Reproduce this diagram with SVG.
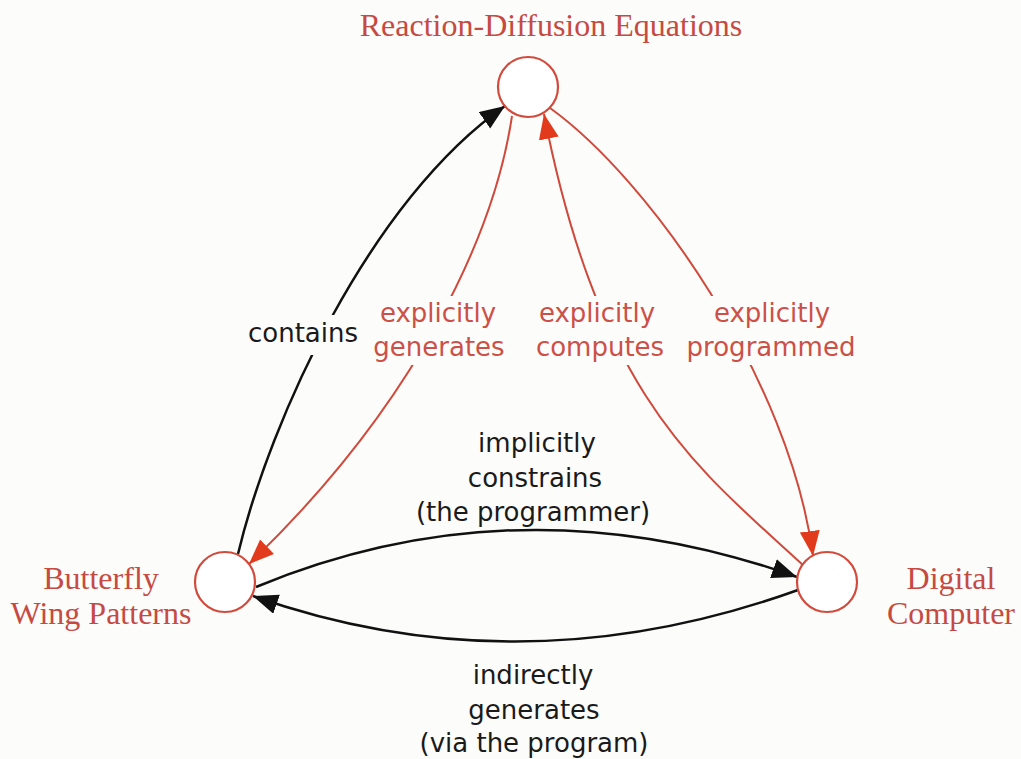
<svg xmlns="http://www.w3.org/2000/svg" width="1021" height="759" viewBox="0 0 1021 759">
  <defs>
    <style>
      .bg { fill: #fcfcfa; }
      .node { fill: #ffffff; stroke: #d24a3c; stroke-width: 2.2; }
      .node-label { font-family: "Liberation Serif", "Times New Roman", serif; font-size: 32px; fill: #c64a42; text-anchor: middle; }
      .edge { fill: none; stroke-width: 2.5; }
      .edge-black { stroke: #111111; }
      .edge-red { stroke: #cf4a3c; stroke-width: 2; }
      .edge-label { font-family: "DejaVu Sans", "Noto Sans", sans-serif; font-size: 26px; text-anchor: middle; }
      .lbl-black { fill: #1a1a1a; }
      .lbl-red { fill: #cc5048; }
    </style>
    <marker id="arrow-black" markerUnits="userSpaceOnUse" markerWidth="28" markerHeight="22" refX="25" refY="10" orient="auto">
      <path d="M0,0 L25,10 L0,20 Z" fill="#111111"/>
    </marker>
    <marker id="arrow-red" markerUnits="userSpaceOnUse" markerWidth="28" markerHeight="22" refX="25" refY="10" orient="auto">
      <path d="M0,0 L25,10 L0,20 Z" fill="#e23a1c"/>
    </marker>
  </defs>

  <rect class="bg" x="0" y="0" width="1021" height="759"/>

  <!-- connectors -->
  <g id="connectors">
    <path id="e-contains" class="edge edge-black" d="M238,554 C270,420 370,200 505,106" marker-end="url(#arrow-black)"/>
    <path id="e-generates" class="edge edge-red" d="M512,116 C495,230 420,400 249,564" marker-end="url(#arrow-red)"/>
    <path id="e-computes" class="edge edge-red" d="M804,566 C700,470 600,400 544,114" marker-end="url(#arrow-red)"/>
    <path id="e-programmed" class="edge edge-red" d="M550,108 C650,180 790,380 813,556" marker-end="url(#arrow-red)"/>
    <path id="e-constrains" class="edge edge-black" d="M256,587 Q520,478 797,577" marker-end="url(#arrow-black)"/>
    <path id="e-indirect" class="edge edge-black" d="M798,590 Q520,690 253,596" marker-end="url(#arrow-black)"/>
  </g>

  <!-- connector labels (backgrounds break the lines behind them) -->
  <g id="edge-labels">
    <rect class="bg" x="244" y="315" width="119" height="40"/>
    <text class="edge-label lbl-black" x="303" y="342">contains</text>

    <rect class="bg" x="370" y="296" width="138" height="69"/>
    <text class="edge-label lbl-red" x="438" y="322">explicitly</text>
    <text class="edge-label lbl-red" x="439" y="356">generates</text>

    <rect class="bg" x="530" y="296" width="140" height="69"/>
    <text class="edge-label lbl-red" x="597" y="322">explicitly</text>
    <text class="edge-label lbl-red" x="600" y="356">computes</text>

    <rect class="bg" x="684" y="296" width="176" height="69"/>
    <text class="edge-label lbl-red" x="772" y="322">explicitly</text>
    <text class="edge-label lbl-red" x="771" y="356">programmed</text>

    <text class="edge-label lbl-black" x="537" y="452">implicitly</text>
    <text class="edge-label lbl-black" x="535" y="487">constrains</text>
    <text class="edge-label lbl-black" x="533" y="521">(the programmer)</text>

    <text class="edge-label lbl-black" x="533" y="684">indirectly</text>
    <text class="edge-label lbl-black" x="534" y="719">generates</text>
    <text class="edge-label lbl-black" x="534" y="752">(via the program)</text>
  </g>

  <!-- nodes -->
  <g id="node-reaction-diffusion">
    <circle class="node" cx="528" cy="87" r="30"/>
    <text class="node-label" x="551" y="36">Reaction-Diffusion Equations</text>
  </g>
  <g id="node-butterfly">
    <circle class="node" cx="225" cy="582" r="30"/>
    <text class="node-label" x="101" y="589">Butterfly</text>
    <text class="node-label" x="101" y="624">Wing Patterns</text>
  </g>
  <g id="node-computer">
    <circle class="node" cx="827" cy="582" r="30"/>
    <text class="node-label" x="951" y="589">Digital</text>
    <text class="node-label" x="951" y="624">Computer</text>
  </g>
</svg>
